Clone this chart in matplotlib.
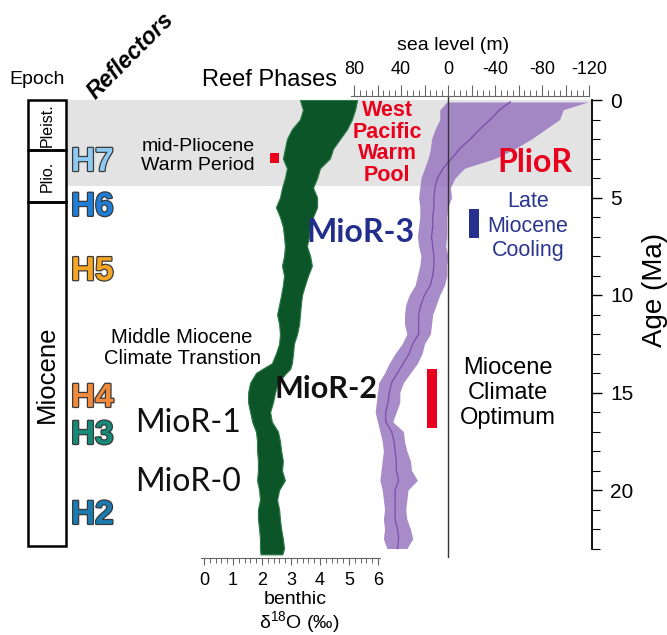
import matplotlib
matplotlib.use("Agg")
import matplotlib.pyplot as plt
import matplotlib.patheffects as pe
from matplotlib.patches import Rectangle
from matplotlib.ticker import MultipleLocator, FuncFormatter
import numpy as np

plt.rcParams['font.family'] = ['Liberation Sans', 'DejaVu Sans']
plt.rcParams['mathtext.fontset'] = 'custom'
plt.rcParams['mathtext.rm'] = 'Liberation Sans'
plt.rcParams['axes.unicode_minus'] = False

# ---------------- data ----------------
# benthic d18O envelope (per mil) vs age (Ma)
d18_age = [0, 0.5, 1.0, 1.5, 2.0, 2.5, 3.0, 3.5, 4.0, 4.5, 5.0, 5.5, 6.0, 6.5, 7.0, 7.5,
           8.0, 8.5, 9.0, 9.5, 10, 10.5, 11, 11.5, 12, 12.5, 13, 13.5, 13.8, 14, 14.5,
           15, 15.5, 16, 16.5, 17, 17.5, 18, 18.5, 19, 19.5, 20, 20.5, 21, 21.5, 22,
           22.5, 23, 23.3]
d18_lo = [3.31, 3.41, 3.31, 3.03, 2.86, 2.79, 2.72, 2.86, 2.79, 2.69, 2.62, 2.48, 2.62,
          2.72, 2.76, 2.79, 2.76, 2.69, 2.76, 2.72, 2.66, 2.59, 2.52, 2.59, 2.62, 2.59,
          2.48, 2.34, 2.00, 1.79, 1.59, 1.52, 1.52, 1.59, 1.66, 1.79, 1.83, 1.83, 1.86,
          1.86, 1.83, 1.90, 1.93, 1.86, 1.86, 1.90, 1.93, 1.93, 1.95]
d18_hi = [5.28, 5.21, 5.10, 4.93, 4.69, 4.45, 4.34, 4.00, 3.90, 3.76, 3.90, 3.90, 3.76,
          3.66, 3.62, 3.55, 3.66, 3.72, 3.59, 3.48, 3.38, 3.34, 3.31, 3.28, 3.21, 3.10,
          3.07, 3.03, 2.97, 2.83, 2.55, 2.45, 2.38, 2.28, 2.34, 2.55, 2.62, 2.66, 2.72,
          2.69, 2.79, 2.59, 2.52, 2.59, 2.62, 2.66, 2.72, 2.76, 2.70]

# sea level (m): envelope of error bars and central estimate
sl_age = [0.1, 0.5, 1.0, 1.5, 2.0, 2.5, 3.0, 3.5, 4.0, 4.5, 5.0, 5.5, 6.0, 6.5, 7.0, 7.5,
          8.0, 8.5, 9.0, 9.5, 10, 10.5, 11, 11.5, 12, 12.5, 13, 13.5, 14, 14.5, 15, 15.5,
          16, 16.5, 17, 17.5, 18, 18.5, 19, 19.5, 20, 20.5, 21, 21.5, 22, 22.5, 23]
sl_high = [1, 7, 7, 11, 14, 15, 17, 20, 23, 24, 25, 24, 24, 25, 26, 25, 23, 24, 26, 28,
           33, 36, 37, 37, 35, 39, 45, 50, 54, 59, 60, 61, 62, 60, 58, 56, 55, 56, 57, 58,
           56, 55, 54, 55, 54, 55, 52]
sl_low = [-119, -98, -95, -83, -71, -57, -40, -14, -6, -2, -3, 0, 1, 1, 1, 2, 0, 1, 1, 3,
          7, 10, 13, 14, 15, 20, 22, 26, 32, 38, 41, 41, 44, 47, 38, 37, 35, 32, 31, 26,
          34, 35, 36, 35, 32, 30, 35]
sl_mid = [-53, -44, -36, -27, -19, -10, -3, 4, 9, 11, 12, 12, 13, 13, 14, 13, 12, 12, 13,
          15, 20, 23, 25, 25, 25, 30, 33, 38, 43, 48, 50, 51, 53, 53, 48, 46, 45, 44, 44,
          42, 45, 45, 45, 45, 43, 42, 43]

epoch_names = ["Pleist.", "Plio.", "Miocene"]
epoch_bounds = [0, 2.58, 5.25, 22.85]
epoch_fs = [11.5, 11.5, 18.5]

gray_band = (0, 4.4)

reflectors = ["H7", "H6", "H5", "H4", "H3", "H2"]
reflector_age = [3.2, 5.5, 8.8, 15.3, 17.2, 21.3]
reflector_col = ["#8ecbf2", "#1f7fd8", "#f5a524", "#f28a3c", "#168a78", "#1b7bb0"]

# reef phases: (age start, age end)
reef_mpwp = (2.72, 3.23)
reef_lmc = (5.6, 7.1)
reef_mco = (13.8, 16.8)

# ---------------- layout helpers ----------------
W, H = 667, 635
fig = plt.figure(figsize=(W / 100, H / 100), dpi=100)

def fx(px):
    return px / W

def fy(py):
    return 1 - py / H

AGE0_PX, PX_MA = 100.0, 19.5
TOP_PX, BOT_PX = 96.0, 558.0
age_top = (TOP_PX - AGE0_PX) / PX_MA
age_bot = (BOT_PX - AGE0_PX) / PX_MA

def a(py):
    return (py - AGE0_PX) / PX_MA

rect_v = [fy(BOT_PX), (BOT_PX - TOP_PX) / H]

# background axes (layout x units, age y units)
ax_bg = fig.add_axes([0, rect_v[0], 1, rect_v[1]])
ax_bg.set_xlim(0, W)
ax_bg.set_ylim(age_bot, age_top)
ax_bg.axis('off')
ax_bg.axhspan(gray_band[0], gray_band[1], xmin=66 / W, xmax=592 / W,
              color='#e3e3e3', lw=0, zorder=0)
for i, nm in enumerate(epoch_names):
    y0, y1 = epoch_bounds[i], epoch_bounds[i + 1]
    ax_bg.add_patch(Rectangle((28, y0), 38, y1 - y0, fill=False, ec='black', lw=1.8,
                              zorder=2))
    ax_bg.text(47, (y0 + y1) / 2, nm, rotation=90, ha='center', va='center',
               fontsize=epoch_fs[i])

# d18O axes
ax_d = fig.add_axes([fx(201), rect_v[0], (380 - 201) / W, rect_v[1]])
ax_d.patch.set_alpha(0)
ax_d.set_xlim((201 - 204) / 29, (380 - 204) / 29)
ax_d.set_ylim(age_bot, age_top)
ax_d.fill_betweenx(d18_age, d18_lo, d18_hi, color='#0b5528', lw=0.8, ec='#2f7a48')
for s in ['top', 'left', 'right']:
    ax_d.spines[s].set_visible(False)
ax_d.spines['bottom'].set_color('#666666')
ax_d.set_yticks([])
ax_d.xaxis.set_major_locator(MultipleLocator(1))
ax_d.xaxis.set_minor_locator(MultipleLocator(0.2))
ax_d.tick_params(axis='x', which='major', length=5, width=0.8, color='#666666',
                 labelsize=13, pad=5)
ax_d.tick_params(axis='x', which='minor', length=3.5, width=0.7, color='#666666')

# sea level axes
ax_s = fig.add_axes([fx(351), rect_v[0], (589 - 351) / W, rect_v[1]])
ax_s.patch.set_alpha(0)
ax_s.set_xlim((448 - 351) * 40 / 47, (448 - 589) * 40 / 47)
ax_s.set_ylim(age_bot, age_top)
ax_s.fill_betweenx(sl_age, sl_high, sl_low, color='#9370bd', alpha=0.8, lw=0)
ax_s.plot(sl_mid, sl_age, color='#7a4ea8', lw=0.9)
ax_s.axvline(0, color='#333333', lw=1)
for s in ['bottom', 'left', 'right']:
    ax_s.spines[s].set_visible(False)
ax_s.spines['top'].set_color('#666666')
ax_s.set_yticks([])
ax_s.xaxis.tick_top()
ax_s.xaxis.set_major_locator(MultipleLocator(20))
ax_s.xaxis.set_minor_locator(MultipleLocator(5))
ax_s.xaxis.set_major_formatter(FuncFormatter(
    lambda v, p: f"{int(round(v))}" if int(round(v)) % 40 == 0 else ""))
ax_s.tick_params(axis='x', which='major', length=8, width=0.8, color='#666666',
                 labelsize=13, pad=5)
ax_s.tick_params(axis='x', which='minor', length=4, width=0.7, color='#666666')

# age axis
ax_a = fig.add_axes([fx(520), fy(AGE0_PX + 23 * PX_MA), (592 - 520) / W, 23 * PX_MA / H])
ax_a.patch.set_alpha(0)
ax_a.set_ylim(23, 0)
ax_a.set_xticks([])
for s in ['top', 'bottom', 'left']:
    ax_a.spines[s].set_visible(False)
ax_a.spines['right'].set_linewidth(1.3)
ax_a.yaxis.tick_right()
ax_a.yaxis.set_major_locator(MultipleLocator(5))
ax_a.yaxis.set_minor_locator(MultipleLocator(1))
ax_a.tick_params(axis='y', which='major', length=7, width=1, labelsize=15, pad=6)
ax_a.tick_params(axis='y', which='minor', length=6, width=0.8)

# text / overlay axes
ax_t = fig.add_axes([0, rect_v[0], 1, rect_v[1]])
ax_t.patch.set_alpha(0)
ax_t.set_xlim(0, W)
ax_t.set_ylim(age_bot, age_top)
ax_t.axis('off')

# reef phase bars
ax_t.bar(274.5, reef_mpwp[1] - reef_mpwp[0], bottom=reef_mpwp[0], width=9,
         color='#e8001c')
ax_t.bar(473.5, reef_lmc[1] - reef_lmc[0], bottom=reef_lmc[0], width=10,
         color='#27318f')
ax_t.bar(432, reef_mco[1] - reef_mco[0], bottom=reef_mco[0], width=10,
         color='#e8001c')

# reflector labels
for nm, ag, c in zip(reflectors, reflector_age, reflector_col):
    ax_t.text(71, ag, nm, ha='left', va='center', fontsize=24, fontweight='bold',
              color=c, path_effects=[pe.withStroke(linewidth=1.8, foreground='#3a3a3a')])

lato = ['Lato', 'DejaVu Sans']
ax_t.text(198, a(156), "mid-Pliocene\nWarm Period", ha='center', va='center',
          fontsize=14, linespacing=1.15)
ax_t.text(387, a(143), "West\nPacific\nWarm\nPool", ha='center', va='center',
          fontsize=15.5, fontweight='bold', color='#e8001c', linespacing=1.05)
ax_t.text(535, a(163), "PlioR", ha='center', va='center', fontsize=23,
          fontweight='bold', color='#e8001c', family=lato)
ax_t.text(528, a(226), "Late\nMiocene\nCooling", ha='center', va='center',
          fontsize=15.5, color='#2a3590', linespacing=1.2)
ax_t.text(360, a(232), "MioR-3", ha='center', va='center', fontsize=23,
          fontweight='bold', color='#232e8c', family=lato)
ax_t.text(182, a(348), "Middle Miocene\nClimate Transtion", ha='center', va='center',
          fontsize=14.5, linespacing=1.1)
ax_t.text(326, a(389), "MioR-2", ha='center', va='center', fontsize=22,
          fontweight='bold', color='#111111', family=lato)
ax_t.text(508, a(393), "Miocene\nClimate\nOptimum", ha='center', va='center',
          fontsize=17, linespacing=1.2)
ax_t.text(188, a(423), "MioR-1", ha='center', va='center', fontsize=23,
          color='#111111', family=lato)
ax_t.text(188, a(482), "MioR-0", ha='center', va='center', fontsize=23,
          color='#111111', family=lato)

# figure-level titles
fig.text(fx(37), fy(80), "Epoch", ha='center', va='center', fontsize=14)
fig.text(fx(131), fy(56), "Reflectors", ha='center', va='center', fontsize=16.5,
         fontweight='bold', fontstyle='italic', rotation=45)
fig.text(fx(269), fy(80), "Reef Phases", ha='center', va='center', fontsize=17)
fig.text(fx(453), fy(46), "sea level (m)", ha='center', va='center', fontsize=14)
fig.text(fx(295), fy(599), "benthic", ha='center', va='center', fontsize=14)
fig.text(fx(299), fy(623), "δ$^{18}$O (‰)", ha='center', va='center', fontsize=14)
fig.text(fx(655), fy(290), "Age (Ma)", ha='center', va='center', fontsize=20,
         rotation=90)

fig.savefig("out.png", dpi=100)
